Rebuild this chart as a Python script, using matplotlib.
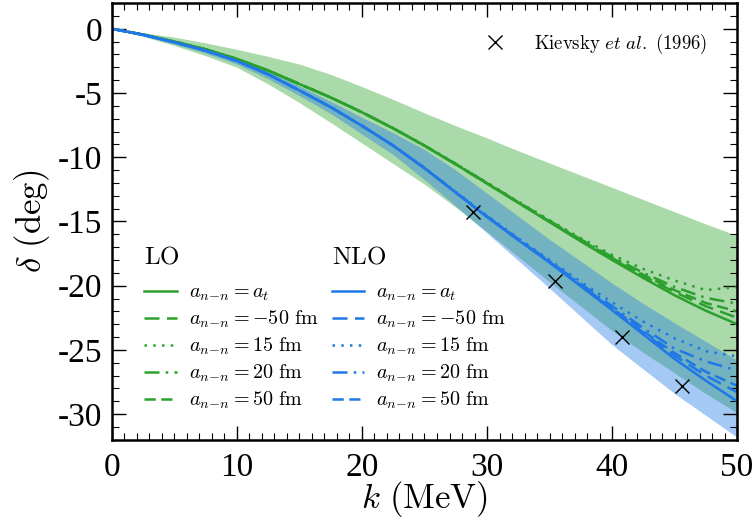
import matplotlib
matplotlib.use('Agg')
import matplotlib.pyplot as plt
from matplotlib.ticker import MultipleLocator

plt.rcParams.update({
    'font.family': 'serif',
    'font.serif': ['Liberation Serif', 'DejaVu Serif'],
    'mathtext.fontset': 'cm',
    'axes.unicode_minus': False,
})

# momentum grid (MeV)
k = [0, 2.5, 5, 7.5, 10, 12.5, 15, 17.5, 20, 22.5, 25,
     27.5, 30, 32.5, 35, 37.5, 40, 42.5, 45, 47.5, 50]

# LO band and curves
lo_upper = [0, -0.3, -0.65, -1.1, -1.6, -2.15, -2.75, -3.55, -4.5, -5.5, -6.55,
            -7.55, -8.5, -9.5, -10.45, -11.4, -12.35, -13.3, -14.25, -15.2, -16.1]
lo_lower = [0, -0.6, -1.3, -2.1, -3.0, -4.3, -5.75, -7.3, -8.9, -10.5, -12.1,
            -13.9, -15.8, -17.75, -19.7, -21.6, -23.5, -25.2, -26.8, -28.4, -29.9]
lo_at = [0, -0.45, -1.0, -1.6, -2.35, -3.25, -4.3, -5.35, -6.5, -7.75, -9.1,
         -10.55, -12.05, -13.55, -15.05, -16.55, -18.0, -19.4, -20.75, -21.95, -23.0]
lo_m50 = [0, -0.45, -1.0, -1.6, -2.35, -3.25, -4.3, -5.35, -6.5, -7.75, -9.1,
          -10.55, -12.04, -13.53, -15.0, -16.5, -17.9, -19.25, -20.5, -21.6, -22.5]
lo_15 = [0, -0.45, -1.0, -1.6, -2.35, -3.25, -4.3, -5.35, -6.5, -7.75, -9.08,
         -10.5, -11.98, -13.45, -14.9, -16.3, -17.6, -18.7, -19.6, -20.35, -20.1]
lo_20 = [0, -0.45, -1.0, -1.6, -2.35, -3.25, -4.3, -5.35, -6.5, -7.75, -9.09,
         -10.52, -12.0, -13.5, -14.95, -16.4, -17.75, -19.0, -20.1, -20.95, -21.4]
lo_50 = [0, -0.45, -1.0, -1.6, -2.35, -3.25, -4.3, -5.35, -6.5, -7.75, -9.1,
         -10.54, -12.02, -13.52, -15.0, -16.45, -17.85, -19.15, -20.35, -21.35, -22.0]

# NLO band and curves
nlo_upper = [0, -0.45, -1.0, -1.6, -2.35, -3.3, -4.45, -5.65, -6.9, -8.1, -9.4,
             -11.0, -12.8, -14.6, -16.4, -18.1, -19.8, -21.4, -22.9, -24.35, -25.8]
nlo_lower = [0, -0.55, -1.2, -1.9, -2.75, -3.9, -5.2, -6.6, -8.2, -9.8, -11.75,
             -13.8, -15.9, -18.05, -20.2, -22.4, -24.6, -26.5, -28.4, -30.1, -31.8]
nlo_at = [0, -0.47, -1.05, -1.7, -2.5, -3.55, -4.8, -6.1, -7.55, -9.1, -10.85,
          -12.75, -14.65, -16.45, -18.2, -20.05, -21.9, -23.8, -25.7, -27.4, -29.0]
nlo_m50 = [0, -0.47, -1.05, -1.7, -2.5, -3.55, -4.8, -6.1, -7.55, -9.1, -10.85,
           -12.75, -14.64, -16.43, -18.17, -20.0, -21.8, -23.65, -25.45, -27.0, -28.3]
nlo_15 = [0, -0.47, -1.05, -1.7, -2.5, -3.55, -4.8, -6.1, -7.55, -9.08, -10.82,
          -12.7, -14.55, -16.3, -18.0, -19.7, -21.3, -22.8, -24.1, -25.1, -25.5]
nlo_20 = [0, -0.47, -1.05, -1.7, -2.5, -3.55, -4.8, -6.1, -7.55, -9.1, -10.84,
          -12.72, -14.6, -16.38, -18.1, -19.85, -21.6, -23.3, -24.9, -25.9, -26.6]
nlo_50 = [0, -0.47, -1.05, -1.7, -2.5, -3.55, -4.8, -6.1, -7.55, -9.1, -10.85,
          -12.74, -14.62, -16.4, -18.15, -19.95, -21.75, -23.55, -25.25, -26.7, -27.8]

# Kievsky et al. (1996)
kiev_k = [28.9, 35.4, 40.8, 45.6]
kiev_d = [-14.3, -19.6, -24.0, -27.8]

labels = [r'$a_{n\!-\!n} = a_t$', r'$a_{n\!-\!n} = -50\ \mathrm{fm}$',
          r'$a_{n\!-\!n} = 15\ \mathrm{fm}$', r'$a_{n\!-\!n} = 20\ \mathrm{fm}$',
          r'$a_{n\!-\!n} = 50\ \mathrm{fm}$']
styles = ['-', (0, (6, 3)), (0, (1, 2.5)), (0, (6, 2.5, 1, 2.5)), (0, (4.5, 2.2))]

green = '#2ca02c'
blue = '#1f78e6'

fig = plt.figure(figsize=(7.56, 5.18), dpi=100)
ax = fig.add_axes([0.148, 0.151, 0.827, 0.843])

ax.fill_between(k, lo_upper, lo_lower, color=green, alpha=0.4, lw=0)
ax.fill_between(k, nlo_upper, nlo_lower, color=blue, alpha=0.4, lw=0)

lo_h = []
for y, ls, lab in zip([lo_at, lo_m50, lo_15, lo_20, lo_50], styles, labels):
    h, = ax.plot(k, y, color=green, ls=ls, lw=1.8, label=lab)
    lo_h.append(h)
nlo_h = []
for y, ls, lab in zip([nlo_at, nlo_m50, nlo_15, nlo_20, nlo_50], styles, labels):
    h, = ax.plot(k, y, color=blue, ls=ls, lw=1.8, label=lab)
    nlo_h.append(h)

kh, = ax.plot(kiev_k, kiev_d, 'x', color='black', ms=10, mew=1.0,
              label=r'$\mathrm{Kievsky}\ et\ al.\ \mathrm{(1996)}$')

ax.set_xlim(0, 50)
ax.set_ylim(-32, 2)
ax.set_xticks([0, 10, 20, 30, 40, 50])
ax.set_yticks([0, -5, -10, -15, -20, -25, -30])
ax.set_yticklabels(['0', '-5', '-10', '-15', '-20', '-25', '-30'])
ax.xaxis.set_minor_locator(MultipleLocator(1))
ax.yaxis.set_minor_locator(MultipleLocator(1))
ax.tick_params(which='both', direction='in', top=True, right=True)
ax.tick_params(which='major', length=10, width=1.0, labelsize=24, pad=7)
ax.tick_params(axis='x', which='major', pad=9)
ax.tick_params(which='minor', length=5, width=0.8)
for s in ax.spines.values():
    s.set_linewidth(1.8)

ax.set_xlabel(r'$k\ \mathrm{(MeV)}$', fontsize=25, labelpad=-3)
ax.set_ylabel(r'$\delta\ \mathrm{(deg)}$', fontsize=25, labelpad=4)

leg_kw = dict(frameon=False, fontsize=14.5, handlelength=1.6, handletextpad=0.6,
              labelspacing=0.28, borderaxespad=0, borderpad=0,
              alignment='left', title_fontsize=18)
leg1 = ax.legend(handles=lo_h, title=r'$\mathrm{LO}$', loc='upper left',
                 bbox_to_anchor=(0.052, 0.443), **leg_kw)
leg2 = ax.legend(handles=nlo_h, title=r'$\mathrm{NLO}$', loc='upper left',
                 bbox_to_anchor=(0.352, 0.443), **leg_kw)
for lg in (leg1, leg2):
    lg._legend_box.sep = 11
    lg._legend_handle_box.set_offset((6, 0)) if False else None
ax.add_artist(leg1)
ax.add_artist(leg2)
ax.legend(handles=[kh], loc='upper right', frameon=False, fontsize=13.5,
          handlelength=1.0, handletextpad=1.6, borderaxespad=0, borderpad=0,
          bbox_to_anchor=(0.952, 0.935))

fig.savefig('out.png', dpi=100)
